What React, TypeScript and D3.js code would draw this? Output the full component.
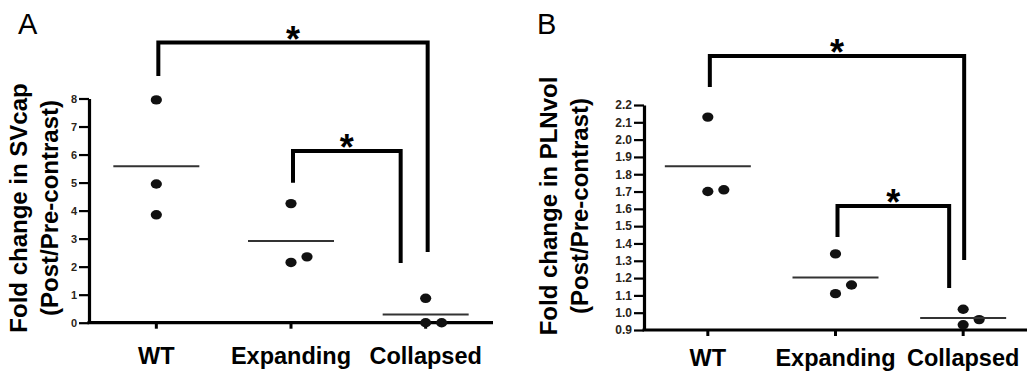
import { useRef, useEffect } from "react";
import * as d3 from "d3";

const categories = ["WT", "Expanding", "Collapsed"];

// Panel A: fold change in SVcap
const svcapWT = [7.95, 4.95, 3.85];
const svcapExpanding = [4.25, 2.15, 2.35];
const svcapCollapsed = [0.87, 0.0, 0.0];
const svcapTicks = [0, 1, 2, 3, 4, 5, 6, 7, 8];

// Panel B: fold change in PLNvol
const plnWT = [2.13, 1.7, 1.71];
const plnExpanding = [1.34, 1.11, 1.16];
const plnCollapsed = [1.02, 0.93, 0.96];
const plnTicks = [0.9, 1.0, 1.1, 1.2, 1.3, 1.4, 1.5, 1.6, 1.7, 1.8, 1.9, 2.0, 2.1, 2.2];

// significance brackets: [from, to, top, leftEnd, rightEnd] in data units
const svcapBrackets: [string, string, number, number, number][] = [
  ["WT", "Collapsed", 10.0, 8.8, 2.52],
  ["Expanding", "Collapsed", 6.13, 4.99, 2.13],
];
const plnBrackets: [string, string, number, number, number][] = [
  ["WT", "Collapsed", 2.483, 2.304, 1.304],
  ["Expanding", "Collapsed", 1.616, 1.437, 1.142],
];

const FONT = "'Liberation Sans', Arial, sans-serif";

type PanelOpts = {
  letter: string;
  ox: number;
  axisX0: number;
  axisX1: number;
  yTop: number;
  yBottom: number;
  domain: [number, number];
  ticks: number[];
  tickFmt: (d: number) => string;
  tickFont: number;
  groups: number[][];
  brackets: [string, string, number, number, number][];
  rightShift: number[]; // bracket right-leg shift from category
  title: string[];
  titleX: [number, number];
  titleY: number;
  catY: number;
};

function drawPanel(svg: d3.Selection<SVGSVGElement, unknown, null, undefined>, o: PanelOpts) {
  const g = svg.append("g");
  const x = d3.scalePoint<string>().domain(categories).range([o.axisX0, o.axisX1]).padding(0.5);
  const y = d3.scaleLinear().domain(o.domain).range([o.yBottom, o.yTop]);

  // letter
  g.append("text")
    .attr("x", o.ox + 18)
    .attr("y", 34)
    .attr("font-family", FONT)
    .attr("font-size", 29)
    .attr("fill", "#000")
    .text(o.letter);

  // y axis title
  o.title.forEach((t, i) => {
    g.append("text")
      .attr("transform", `translate(${o.titleX[i]},${o.titleY}) rotate(-90)`)
      .attr("text-anchor", "middle")
      .attr("font-family", FONT)
      .attr("font-weight", "bold")
      .attr("font-size", 24)
      .attr("fill", "#000")
      .text(t);
  });

  // y axis
  const yAxis = g
    .append("g")
    .attr("transform", `translate(${o.axisX0},0)`)
    .call(
      d3
        .axisLeft(y)
        .tickValues(o.ticks)
        .tickFormat((d) => o.tickFmt(d as number))
        .tickSize(10)
        .tickSizeOuter(0)
        .tickPadding(2)
    );
  yAxis.select(".domain").attr("stroke", "#000").attr("stroke-width", 3.2);
  yAxis.selectAll(".tick line").attr("stroke", "#000").attr("stroke-width", 2.2);
  yAxis
    .selectAll(".tick text")
    .attr("font-family", FONT)
    .attr("font-weight", "bold")
    .attr("font-size", o.tickFont)
    .attr("fill", "#2a2418");

  // x axis
  g.append("line")
    .attr("x1", o.axisX0 - 1.5)
    .attr("x2", o.axisX1)
    .attr("y1", o.yBottom)
    .attr("y2", o.yBottom)
    .attr("stroke", "#000")
    .attr("stroke-width", 3.2);
  categories.forEach((c) => {
    g.append("line")
      .attr("x1", x(c)!)
      .attr("x2", x(c)!)
      .attr("y1", o.yBottom)
      .attr("y2", o.yBottom + 6)
      .attr("stroke", "#000")
      .attr("stroke-width", 3);
    g.append("text")
      .attr("x", x(c)!)
      .attr("y", o.catY)
      .attr("text-anchor", "middle")
      .attr("font-family", FONT)
      .attr("font-weight", "bold")
      .attr("font-size", 23.5)
      .attr("fill", "#000")
      .text(c);
  });

  // dots + mean lines
  o.groups.forEach((vals, gi) => {
    const cx = x(categories[gi])!;
    const placed: number[] = [];
    vals.forEach((v) => {
      const py = y(v);
      const crowded = placed.some((p) => Math.abs(p - py) < 12);
      placed.push(py);
      g.append("ellipse")
        .attr("cx", cx + (crowded ? 16 : 0))
        .attr("cy", py)
        .attr("rx", 5.6)
        .attr("ry", 4.7)
        .attr("fill", "#111");
    });
    const m = d3.mean(vals)!;
    g.append("line")
      .attr("x1", cx - 43)
      .attr("x2", cx + 43)
      .attr("y1", y(m))
      .attr("y2", y(m))
      .attr("stroke", "#333")
      .attr("stroke-width", 2);
  });

  // brackets
  o.brackets.forEach(([a, b, top, lEnd, rEnd], i) => {
    const xl = x(a)! + 2;
    const xr = x(b)! + o.rightShift[i];
    const path = d3.path();
    path.moveTo(xl, y(lEnd));
    path.lineTo(xl, y(top));
    path.lineTo(xr, y(top));
    path.lineTo(xr, y(rEnd));
    g.append("path")
      .attr("d", path.toString())
      .attr("fill", "none")
      .attr("stroke", "#000")
      .attr("stroke-width", 4);
    const fs = 36;
    g.append("text")
      .attr("x", (xl + xr) / 2)
      .attr("y", y(top) - 11 + 0.56 * fs)
      .attr("text-anchor", "middle")
      .attr("font-family", FONT)
      .attr("font-weight", "bold")
      .attr("font-size", fs)
      .attr("fill", "#000")
      .text("*");
  });
}

export default function App() {
  const svgRef = useRef<SVGSVGElement>(null);

  useEffect(() => {
    if (!svgRef.current) return;
    document.body.style.margin = "0";
    const svg = d3.select(svgRef.current);
    svg.selectAll("*").remove();

    drawPanel(svg, {
      letter: "A",
      ox: 0,
      axisX0: 89,
      axisX1: 493,
      yTop: 98.5,
      yBottom: 322.7,
      domain: [0, 8],
      ticks: svcapTicks,
      tickFmt: (d) => d3.format("d")(d),
      tickFont: 11,
      groups: [svcapWT, svcapExpanding, svcapCollapsed],
      brackets: svcapBrackets,
      rightShift: [2, -25],
      title: ["Fold change in SVcap", "(Post/Pre-contrast)"],
      titleX: [27, 58],
      titleY: 208,
      catY: 364,
    });

    drawPanel(svg, {
      letter: "B",
      ox: 519,
      axisX0: 644,
      axisX1: 1027,
      yTop: 105,
      yBottom: 330,
      domain: [0.9, 2.2],
      ticks: plnTicks,
      tickFmt: (d) => d3.format(".1f")(d),
      tickFont: 12,
      groups: [plnWT, plnExpanding, plnCollapsed],
      brackets: plnBrackets,
      rightShift: [1, -14],
      title: ["Fold change in PLNvol", "(Post/Pre-contrast)"],
      titleX: [557, 588],
      titleY: 206,
      catY: 366,
    });
  }, []);

  return (
    <svg
      ref={svgRef}
      width={1032}
      height={373}
      viewBox="0 0 1032 373"
      style={{ display: "block", background: "#fff" }}
    />
  );
}
